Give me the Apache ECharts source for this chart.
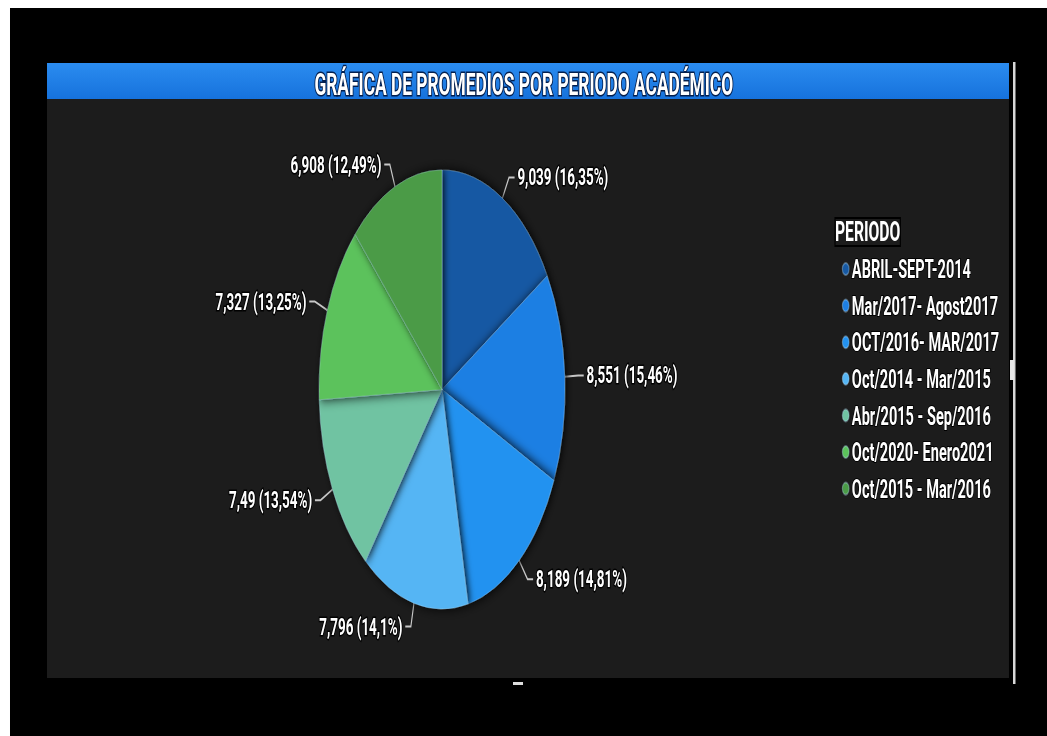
<!DOCTYPE html>
<html>
<head>
<meta charset="utf-8">
<script src="https://cdn.jsdelivr.net/npm/echarts@6/dist/echarts.min.js"></script>
<style>
  html, body { margin: 0; padding: 0; background: #ffffff; overflow: hidden; width: 1047px; height: 736px; }
  #chart { position: absolute; left: 0; top: 0; width: 1870px; height: 736px; transform: scaleX(0.56); transform-origin: 0 0; }
</style>
</head>
<body>
<div id="chart"></div>
<script>
// ---- data ----
const chartTitle = 'GRÁFICA DE PROMEDIOS POR PERIODO ACADÉMICO';
const legendTitle = 'PERIODO';
const categories = [
  'ABRIL-SEPT-2014',
  'Mar/2017- Agost2017',
  'OCT/2016- MAR/2017',
  'Oct/2014 - Mar/2015',
  'Abr/2015 - Sep/2016',
  'Oct/2020- Enero2021',
  'Oct/2015 - Mar/2016'
];
const values = [9.039, 8.551, 8.189, 7.796, 7.49, 7.327, 6.908];
const colors = ['#1759a3', '#1e7fe3', '#2392f0', '#55b5f4', '#70c3a2', '#5cc25b', '#4b9b47'];

// ---- layout (the whole picture is horizontally compressed) ----
const S = 0.56;
const X = px => px / S;

const chart = echarts.init(document.getElementById('chart'), null, { renderer: 'svg' });
const fmt = v => String(v).replace('.', ',');

chart.setOption({
  backgroundColor: 'transparent',
  animation: false,
  title: {
    text: chartTitle,
    left: X(521),
    textAlign: 'center',
    top: 64,
    textStyle: {
      color: '#ffffff', fontSize: 31, fontWeight: 'bold', fontFamily: 'Roboto',
      textBorderColor: 'rgba(0,20,60,0.9)', textBorderWidth: 3
    }
  },
  graphic: [
    { type: 'rect', z: -10, shape: { x: X(10), y: 8, width: X(1047), height: 740 }, style: { fill: '#000000' } },
    { type: 'rect', z: -9, shape: { x: X(47), y: 63, width: X(962), height: 615 }, style: { fill: '#1c1c1c' } },
    { type: 'rect', z: -8, shape: { x: X(47), y: 63, width: X(962), height: 36 },
      style: { fill: new echarts.graphic.LinearGradient(0, 0, 0, 1, [
        { offset: 0, color: '#2b8cf0' }, { offset: 1, color: '#1672dc' }]) } },
    { type: 'rect', z: -7, shape: { x: X(1013), y: 62, width: X(2.5), height: 622 }, style: { fill: '#d8d8d8' } },
    { type: 'rect', z: -7, shape: { x: X(1010), y: 360, width: X(4), height: 20 }, style: { fill: '#e8e8e8' } },
    { type: 'rect', z: -7, shape: { x: X(513), y: 682, width: X(10), height: 3 }, style: { fill: '#dddddd' } },
    { type: 'text', z: 5, x: X(835), y: 232,
      style: { text: legendTitle, fill: '#ffffff', fontSize: 28, fontWeight: 'bold', fontFamily: 'Roboto',
               verticalAlign: 'middle', textBorderColor: '#000', textBorderWidth: 2 } }
  ],
  legend: {
    orient: 'vertical',
    left: X(839),
    top: 250,
    icon: 'circle',
    itemWidth: 12,
    itemHeight: 12,
    itemGap: 8.6,
    data: categories,
    textStyle: {
      color: '#ffffff', fontSize: 26, lineHeight: 24, fontWeight: 'bold', fontFamily: 'Roboto',
      textBorderColor: '#000', textBorderWidth: 2
    }
  },
  series: [{
    type: 'pie',
    center: [X(442), 389.5],
    radius: 219.5,
    startAngle: 90,
    clockwise: true,
    avoidLabelOverlap: true,
    data: categories.map((c, i) => ({ name: c, value: values[i], itemStyle: { color: colors[i] } })),
    itemStyle: {
      borderColor: 'rgba(190,230,255,0.35)', borderWidth: 1,
      shadowBlur: 12, shadowColor: 'rgba(0,0,0,0.9)', shadowOffsetX: 3
    },
    label: {
      show: true,
      position: 'outside',
      formatter: p => fmt(p.value) + ' (' + fmt(p.percent) + '%)',
      color: '#ffffff', fontSize: 24, fontWeight: 'bold', fontFamily: 'Roboto',
      textBorderColor: 'rgba(0,0,0,0.95)', textBorderWidth: 3
    },
    labelLine: {
      show: true, length: 24, length2: 10, smooth: false,
      lineStyle: { color: '#c8c8c8', width: 2 }
    },
    emphasis: { disabled: true }
  }]
});
</script>
</body>
</html>
